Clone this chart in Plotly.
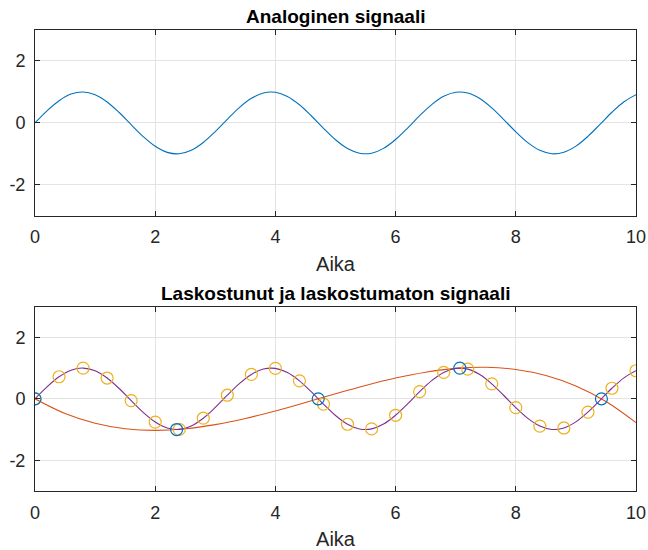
import plotly.graph_objects as go

# Time axis at 0.2 s steps for the continuous signal
t_fine = [round(0.2 * i, 1) for i in range(51)]
analog = [
    0.0000, 0.3894, 0.7174, 0.9320, 0.9996, 0.9093, 0.6755, 0.3350, -0.0584, -0.4425,
    -0.7568, -0.9516, -0.9962, -0.8835, -0.6313, -0.2794, 0.1165, 0.4941, 0.7937, 0.9679,
    0.9894, 0.8546, 0.5849, 0.2229, -0.1743, -0.5440, -0.8278, -0.9809, -0.9792, -0.8228,
    -0.5366, -0.1656, 0.2315, 0.5920, 0.8591, 0.9906, 0.9661, 0.7883, 0.4864, 0.1078,
    -0.2879, -0.6381, -0.8876, -0.9969, -0.9488, -0.7510, -0.4346, -0.0495, 0.3433, 0.6819,
    0.9129,
]

# Dense sampling (0.4 s) – no aliasing
t_dense = [round(0.4 * i, 1) for i in range(26)]
y_dense = [
    0.0000, 0.7174, 0.9996, 0.6755, -0.0584, -0.7568, -0.9962, -0.6313, 0.1165, 0.7937,
    0.9894, 0.5849, -0.1743, -0.8278, -0.9792, -0.5366, 0.2315, 0.8591, 0.9661, 0.4864,
    -0.2879, -0.8876, -0.9488, -0.4346, 0.3433, 0.9129,
]

# Sparse sampling (3π/4 s) – aliased
t_sparse = [0.0, 2.3562, 4.7124, 7.0686, 9.4248]
y_sparse = [0.0, -1.0, 0.0, 1.0, 0.0]

# Signal reconstructed from the sparse samples
t_recon = [round(0.5 * i, 1) for i in range(21)]
y_recon = [
    0.0000, -0.4790, -0.7970, -0.9731, -1.0264, -0.9760, -0.8411, -0.6407, -0.3939, -0.1199,
    0.1622, 0.4332, 0.6742, 0.8660, 0.9895, 1.0255, 0.9549, 0.7587, 0.4177, -0.0872,
    -0.7751,
]

x_ticks = [0, 2, 4, 6, 8, 10]
y_ticks = [-2, 0, 2]
y_ticktext = ["-2", "0", "2"]

titles = ["Analoginen signaali", "Laskostunut ja laskostumaton signaali"]
x_label = "Aika"

BLUE = "#0072BD"
ORANGE = "#D95319"
YELLOW = "#EDB120"
PURPLE = "#7E2F8E"
AXIS = "#262626"
FONT = "Liberation Sans, Arial, sans-serif"

fig = go.Figure()

fig.add_trace(go.Scatter(x=t_fine, y=analog, mode="lines", line=dict(color=BLUE, width=1.1, shape="spline"),
                         xaxis="x", yaxis="y", showlegend=False))

fig.add_trace(go.Scatter(x=t_recon, y=y_recon, mode="lines", line=dict(color=ORANGE, width=1.1, shape="spline"),
                         xaxis="x2", yaxis="y2", showlegend=False))
fig.add_trace(go.Scatter(x=t_fine, y=analog, mode="lines", line=dict(color=PURPLE, width=1.1, shape="spline"),
                         xaxis="x2", yaxis="y2", showlegend=False))
fig.add_trace(go.Scatter(x=t_dense, y=y_dense, mode="markers",
                         marker=dict(symbol="circle-open", size=12, color=YELLOW, line=dict(width=1.2)),
                         xaxis="x2", yaxis="y2", showlegend=False))
fig.add_trace(go.Scatter(x=t_sparse, y=y_sparse, mode="markers",
                         marker=dict(symbol="circle-open", size=12, color=BLUE, line=dict(width=1.2)),
                         xaxis="x2", yaxis="y2", showlegend=False))

xaxis_style = dict(
    range=[0, 10], tickvals=x_ticks, ticks="inside", ticklen=5, tickcolor=AXIS,
    showline=True, linecolor=AXIS, linewidth=1, mirror="ticks",
    showgrid=True, gridcolor="#e3e3e3", gridwidth=1, zeroline=False,
    tickfont=dict(family=FONT, size=18, color=AXIS),
    title=dict(text=x_label, font=dict(family=FONT, size=20, color=AXIS), standoff=10),
    ticklabelstandoff=5, automargin=False,
)
yaxis_style = dict(
    range=[-3, 3], tickvals=y_ticks, ticktext=y_ticktext, ticks="inside", ticklen=5, tickcolor=AXIS,
    showline=True, linecolor=AXIS, linewidth=1, mirror="ticks",
    showgrid=True, gridcolor="#e3e3e3", gridwidth=1, zeroline=False,
    tickfont=dict(family=FONT, size=18, color=AXIS),
    ticklabelstandoff=5, automargin=False,
)

fig.update_layout(
    width=648, height=550,
    paper_bgcolor="white", plot_bgcolor="white",
    margin=dict(l=35, r=12, t=30, b=59),
    xaxis=dict(**xaxis_style, domain=[0, 1], anchor="y"),
    yaxis=dict(**yaxis_style, domain=[0.597, 1], anchor="x"),
    xaxis2=dict(**xaxis_style, domain=[0, 1], anchor="y2"),
    yaxis2=dict(**yaxis_style, domain=[0, 0.4], anchor="x2"),
    annotations=[
        dict(text="<b>" + titles[0] + "</b>", x=0.5, y=1, xref="paper", yref="paper",
             xanchor="center", yanchor="bottom", yshift=1, showarrow=False,
             font=dict(family=FONT, size=19, color="black")),
        dict(text="<b>" + titles[1] + "</b>", x=0.5, y=0.4, xref="paper", yref="paper",
             xanchor="center", yanchor="bottom", yshift=1, showarrow=False,
             font=dict(family=FONT, size=19, color="black")),
    ],
)

fig.write_html("out.html")
